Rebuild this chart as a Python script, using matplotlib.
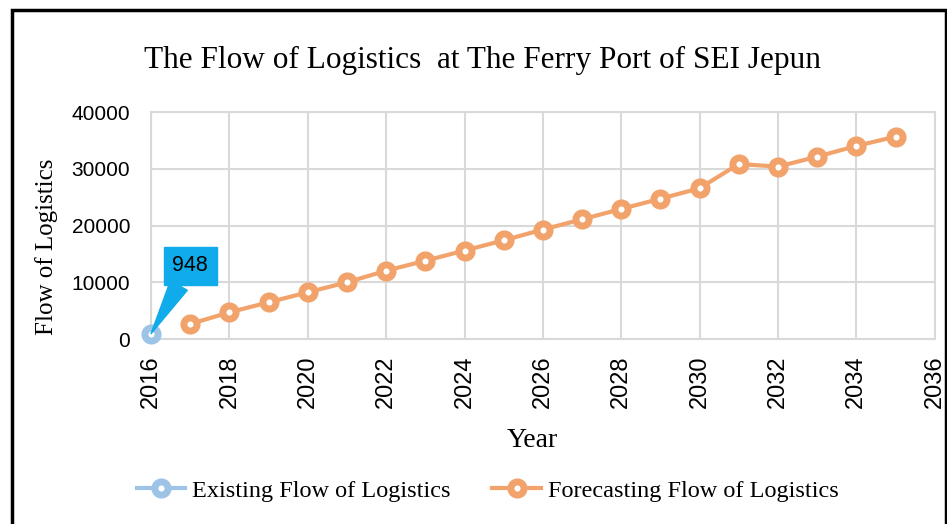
import matplotlib.pyplot as plt
from matplotlib.patches import Rectangle

# data
existing_years = [2016]
existing_flow = [948]
forecast_years = [2017, 2018, 2019, 2020, 2021, 2022, 2023, 2024, 2025, 2026,
                  2027, 2028, 2029, 2030, 2031, 2032, 2033, 2034, 2035]
forecast_flow = [2650, 4710, 6470, 8240, 10000, 12050, 13800, 15600, 17400, 19300,
                 21100, 22930, 24740, 26580, 30860, 30390, 32150, 34040, 35680]
x_ticks = list(range(2016, 2037, 2))
y_ticks = [0, 10000, 20000, 30000, 40000]

blue = '#9DC3E6'
orange = '#F2A36B'
serif = 'Liberation Serif'
sans = 'Liberation Sans'

fig = plt.figure(figsize=(9.47, 5.24), dpi=100)
ax = fig.add_axes([0.1595, 0.353, 0.8275, 0.433])

ax.plot(existing_years, existing_flow, color=blue, lw=3, marker='o', ms=9.5,
        mfc='white', mec=blue, mew=5, clip_on=False, zorder=3,
        label='Existing Flow of Logistics')
ax.plot(forecast_years, forecast_flow, color=orange, lw=3, marker='o', ms=9.5,
        mfc='white', mec=orange, mew=5, clip_on=False, zorder=3,
        label='Forecasting Flow of Logistics')

ax.annotate(str(existing_flow[0]), xy=(existing_years[0], existing_flow[0]),
            xytext=(2017.0, 12900), fontsize=15.5, family=sans, color='black',
            ha='center', va='center', zorder=5,
            bbox=dict(boxstyle='square,pad=0.4', fc='#10ABEA', ec='#10ABEA'),
            arrowprops=dict(arrowstyle='wedge,tail_width=0.9,shrink_factor=0.5',
                            fc='#10ABEA', ec='#10ABEA', shrinkA=0, shrinkB=0))

ax.set_xlim(2016, 2036)
ax.set_ylim(0, 40000)
ax.set_xticks(x_ticks)
ax.set_yticks(y_ticks)
ax.grid(True, color='#D9D9D9', lw=1.5)
ax.set_axisbelow(True)
for s in ax.spines.values():
    s.set_color('#D9D9D9')
    s.set_linewidth(1.5)
ax.tick_params(axis='y', length=0, labelsize=15, pad=15)
ax.tick_params(axis='x', length=0, labelsize=17, pad=12)
for lab in ax.get_xticklabels():
    lab.set_rotation(90)
    lab.set_family(sans)
for lab in ax.get_yticklabels():
    lab.set_family(sans)

ax.set_xlabel('Year', family=serif, fontsize=20)
ax.xaxis.set_label_coords(0.487, -0.39)
ax.set_ylabel('Flow of Logistics', family=serif, fontsize=18)
ax.yaxis.set_label_coords(-0.119, 0.405)
fig.text(0.51, 0.885, 'The Flow of Logistics  at The Ferry Port of SEI Jepun',
         family=serif, fontsize=22.5, ha='center', va='center')

fig.legend(loc='center', bbox_to_anchor=(0.515, 0.063), ncol=2, frameon=False,
           prop={'family': serif, 'size': 17.5}, handlelength=2.0,
           columnspacing=1.7, handletextpad=0.3)

fig.patches.append(Rectangle((12 / 947, -0.01), 934 / 947, 1 - 10 / 524 + 0.01,
                             transform=fig.transFigure, fill=False,
                             ec='black', lw=2.5))

fig.savefig('out.png', dpi=100)
